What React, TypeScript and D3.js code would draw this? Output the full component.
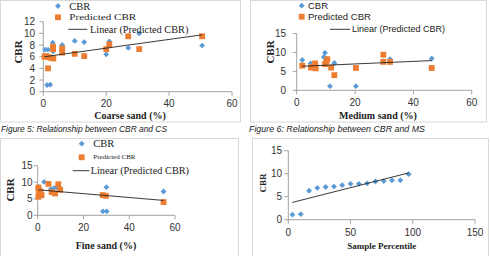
import React from 'react';
import * as d3 from 'd3';

// ---------- Data ----------
// Figure 5: Coarse sand
const csCbrX = [0.6, 1.5, 1.2, 2.2, 3.0, 3.1, 6.0, 10, 13, 20, 21, 27, 30.5, 50.5];
const csCbrY = [7.2, 7.2, 1.15, 1.2, 8.4, 6.9, 8.0, 8.7, 8.5, 6.4, 8.6, 7.5, 10.0, 7.9];
const csPredX = [0.4, 1.0, 1.7, 1.5, 2.5, 3.1, 3.1, 3.2, 6.0, 6.0, 10, 13, 20, 21, 27, 30.5, 50.5];
const csPredY = [6.0, 6.1, 5.9, 4.0, 5.8, 7.7, 7.3, 5.7, 7.4, 6.7, 6.5, 6.1, 7.3, 8.1, 9.5, 7.3, 9.5];
const csTrendX = [0.4, 50.5];
const csTrendY = [6.0, 9.75];
const csXTicks = [0, 20, 40, 60];
const csYTicks = [0, 2, 4, 6, 8, 10, 12];

// Figure 6: Medium sand
const msCbrX = [1.9, 4.8, 9.3, 9.7, 10.4, 12.9, 11.4, 20.3, 29.7, 32, 46.3];
const msCbrY = [8.0, 7.1, 8.8, 9.9, 8.3, 7.2, 1.1, 1.1, 7.7, 8.2, 8.4];
const msPredX = [1.9, 4.9, 5.5, 6.3, 6.4, 6.5, 9.7, 10.2, 10.5, 11.8, 12.9, 20.3, 29.7, 29.7, 32, 46.3];
const msPredY = [6.5, 6.0, 6.2, 7.1, 6.4, 5.8, 6.9, 7.6, 8.2, 6.0, 4.0, 5.9, 9.4, 7.5, 7.5, 5.9];
const msTrendX = [1.9, 46.3];
const msTrendY = [6.35, 7.85];
const msXTicks = [0, 20, 40, 60];
const msYTicks = [0, 5, 10, 15];

// Fine sand
const fsCbrX = [0.5, 2.8, 5.7, 7.1, 8.3, 9.8, 30.0, 28.5, 30.2, 55];
const fsCbrY = [8.6, 10.1, 7.9, 8.2, 8.5, 8.2, 8.5, 1.2, 1.2, 7.2];
const fsPredX = [0.3, 0.4, 0.6, 0.3, 1.7, 1.2, 4.7, 6.1, 7.6, 9.0, 9.8, 28.4, 29.8, 55];
const fsPredY = [8.4, 7.6, 6.6, 5.6, 6.1, 7.2, 9.5, 7.0, 6.6, 9.4, 7.7, 6.1, 5.9, 4.0];
const fsTrendX = [0.3, 55];
const fsTrendY = [7.7, 4.5];
const fsXTicks = [0, 20, 40, 60];
const fsYTicks = [0, 5, 10, 15];

// Sample percentile
const pctX = [3.3, 10, 16.7, 23.3, 30, 36.7, 43.3, 50, 56.7, 63.3, 70, 76.7, 83.3, 90, 96.7];
const pctY = [1.1, 1.2, 6.3, 6.9, 7.1, 7.2, 7.5, 7.8, 7.8, 7.9, 8.3, 8.4, 8.55, 8.55, 9.9];
const pctXTicks = [0, 50, 100, 150];
const pctYTicks = [0, 5, 10, 15];

const captions = ['Figure 5: Relationship between CBR and CS', 'Figure 6: Relationship between CBR and MS'];

// ---------- Styles ----------
const BLUE = '#5B9BD5';
const ORANGE = '#ED7D31';
const AXIS = '#8c8c8c';
const BORDER = '#d9d9d9';
const SANS = "'Liberation Sans', Arial, sans-serif";
const SERIF = "'Liberation Serif', 'Times New Roman', serif";

const diamondPath = d3.symbol().type(d3.symbolSquare).size(17)() as string;
const squarePath = d3.symbol().type(d3.symbolSquare).size(34)() as string;

function linReg(xs: number[], ys: number[]) {
  const mx = d3.mean(xs) as number;
  const my = d3.mean(ys) as number;
  let num = 0, den = 0;
  xs.forEach((x, i) => { num += (x - mx) * (ys[i] - my); den += (x - mx) * (x - mx); });
  const b = num / den;
  return (x: number) => my + b * (x - mx);
}

type PanelProps = {
  xr: [number, number]; yr: [number, number];
  xd: [number, number]; yd: [number, number];
  xTicks: number[]; yTicks: number[];
  cbrX: number[]; cbrY: number[];
  predX?: number[]; predY?: number[];
  trendX: number[]; trendY: number[];
  yTitle: { x: number; y: number; size: number };
  xTitle: { text: string; x: number; y: number; size: number };
  yLabelX: number; xLabelDy: number; tickSize: number;
};

function Panel(p: PanelProps) {
  const x = d3.scaleLinear().domain(p.xd).range(p.xr);
  const y = d3.scaleLinear().domain(p.yd).range(p.yr);
  const line = d3.line<number>().x((d, i) => x(p.trendX[i])).y((d) => y(d));
  return (
    <g>
      <line x1={x(p.xd[0])} x2={x(p.xd[0])} y1={y(p.yd[0])} y2={y(p.yd[1])} stroke={AXIS} strokeWidth={0.8} />
      {p.yTicks.map((t) => (
        <g key={'y' + t}>
          <line x1={x(p.xd[0]) - 4} x2={x(p.xd[0])} y1={y(t)} y2={y(t)} stroke={AXIS} strokeWidth={0.8} />
          <text x={p.yLabelX} y={y(t)} textAnchor="end" dominantBaseline="central" fontFamily={SANS} fontSize={p.tickSize} fill="#333">{t}</text>
        </g>
      ))}
      <line x1={x(p.xd[0])} x2={x(p.xd[1])} y1={y(p.yd[0])} y2={y(p.yd[0])} stroke={AXIS} strokeWidth={0.8} />
      {p.xTicks.map((t) => (
        <g key={'x' + t}>
          <line x1={x(t)} x2={x(t)} y1={y(p.yd[0])} y2={y(p.yd[0]) + 4} stroke={AXIS} strokeWidth={0.8} />
          <text x={x(t)} y={y(p.yd[0]) + p.xLabelDy} textAnchor="middle" dominantBaseline="central" fontFamily={SANS} fontSize={p.tickSize} fill="#333">{t}</text>
        </g>
      ))}
      {p.cbrX.map((v, i) => (
        <path key={'c' + i} d={diamondPath} transform={`translate(${x(v)},${y(p.cbrY[i])}) rotate(45)`} fill={BLUE} />
      ))}
      {p.predX && p.predY && p.predX.map((v, i) => (
        <path key={'p' + i} d={squarePath} transform={`translate(${x(v)},${y(p.predY![i])})`} fill={ORANGE} />
      ))}
      <path d={line(p.trendY) as string} fill="none" stroke="#222" strokeWidth={0.9} />
      <text transform={`translate(${p.yTitle.x},${p.yTitle.y}) rotate(-90)`} textAnchor="middle" dominantBaseline="central" fontFamily={SERIF} fontWeight="bold" fontSize={p.yTitle.size} fill="#222">CBR</text>
      <text x={p.xTitle.x} y={p.xTitle.y} textAnchor="middle" dominantBaseline="central" fontFamily={SERIF} fontWeight="bold" fontSize={p.xTitle.size} fill="#222">{p.xTitle.text}</text>
    </g>
  );
}

type LegendProps = {
  markX: number; y1: number; y2: number; y3: number;
  textX: number; lineX1: number; lineX2: number; lineTextX: number;
  font: string; s1: number; s2: number; s3: number; len2?: number;
};
function Legend(l: LegendProps) {
  return (
    <g fill="#222">
      <path d={diamondPath} transform={`translate(${l.markX},${l.y1}) rotate(45)`} fill={BLUE} />
      <text x={l.textX} y={l.y1} dominantBaseline="central" fontFamily={l.font} fontSize={l.s1}>CBR</text>
      <path d={squarePath} transform={`translate(${l.markX},${l.y2})`} fill={ORANGE} />
      <text x={l.textX} y={l.y2} dominantBaseline="central" fontFamily={l.font} fontSize={l.s2}
        {...(l.len2 ? { textLength: l.len2, lengthAdjust: 'spacingAndGlyphs' } : {})}>Predicted CBR</text>
      <line x1={l.lineX1} x2={l.lineX2} y1={l.y3} y2={l.y3} stroke="#222" strokeWidth={0.9} />
      <text x={l.lineTextX} y={l.y3} dominantBaseline="central" fontFamily={l.font} fontSize={l.s3}>Linear (Predicted CBR)</text>
    </g>
  );
}

export default function App() {
  const pctFit = linReg(pctX, pctY);
  const pctTrendX = [pctX[0], pctX[pctX.length - 1]];
  const pctTrendY = pctTrendX.map(pctFit);
  return (
    <svg width={490} height={256} style={{ position: 'absolute', left: 0, top: 0, background: '#fff' }}>
      <rect x={0} y={0} width={490} height={256} fill="#fff" />
      <rect x={0.5} y={0.5} width={240} height={121.5} fill="none" stroke={BORDER} />
      <rect x={250.5} y={0.5} width={236} height={121.5} fill="none" stroke={BORDER} />
      <rect x={0.5} y={138.5} width={238} height={125} fill="none" stroke={BORDER} />
      <rect x={252.5} y={138.5} width={236} height={125} fill="none" stroke={BORDER} />

      <Panel xr={[43.3, 232]} yr={[91.7, 21.7]} xd={[0, 60]} yd={[0, 12]} xTicks={csXTicks} yTicks={csYTicks}
        cbrX={csCbrX} cbrY={csCbrY} predX={csPredX} predY={csPredY} trendX={csTrendX} trendY={csTrendY}
        yTitle={{ x: 18, y: 52, size: 11 }} xTitle={{ text: 'Coarse sand (%)', x: 130, y: 115, size: 10 }}
        yLabelX={35} xLabelDy={11.5} tickSize={10} />
      <Legend markX={58} y1={6} y2={17.3} y3={29.3} textX={69.3} lineX1={68.3} lineX2={87.3} lineTextX={90}
        font={SERIF} s1={10.5} s2={7.5} s3={10.3} len2={67} />

      <Panel xr={[296.7, 471.7]} yr={[90.3, 33.5]} xd={[0, 60]} yd={[0, 15]} xTicks={msXTicks} yTicks={msYTicks}
        cbrX={msCbrX} cbrY={msCbrY} predX={msPredX} predY={msPredY} trendX={msTrendX} trendY={msTrendY}
        yTitle={{ x: 270, y: 52, size: 11 }} xTitle={{ text: 'Medium sand (%)', x: 378, y: 115, size: 10 }}
        yLabelX={286} xLabelDy={12.5} tickSize={10} />
      <Legend markX={301.7} y1={5.7} y2={16.7} y3={29.3} textX={308} lineX1={330} lineX2={350} lineTextX={352}
        font={SANS} s1={9.5} s2={9.5} s3={9} />

      <Panel xr={[37.7, 175]} yr={[215.3, 165.7]} xd={[0, 60]} yd={[0, 15]} xTicks={fsXTicks} yTicks={fsYTicks}
        cbrX={fsCbrX} cbrY={fsCbrY} predX={fsPredX} predY={fsPredY} trendX={fsTrendX} trendY={fsTrendY}
        yTitle={{ x: 10, y: 190, size: 11 }} xTitle={{ text: 'Fine sand (%)', x: 106, y: 245, size: 10 }}
        yLabelX={32.5} xLabelDy={12.5} tickSize={10} />
      <Legend markX={81.7} y1={143.7} y2={157.3} y3={170.7} textX={93.3} lineX1={72.7} lineX2={89.3} lineTextX={90.7}
        font={SERIF} s1={10.5} s2={7} s3={10.3} />

      <Panel xr={[288.3, 475]} yr={[219.7, 150.7]} xd={[0, 150]} yd={[0, 15]} xTicks={pctXTicks} yTicks={pctYTicks}
        cbrX={pctX} cbrY={pctY} trendX={pctTrendX} trendY={pctTrendY}
        yTitle={{ x: 263, y: 183, size: 9 }} xTitle={{ text: 'Sample Percentile', x: 381.7, y: 246, size: 9 }}
        yLabelX={282} xLabelDy={12.3} tickSize={10} />

      <text x={1} y={131.5} fontFamily={SANS} fontStyle="italic" fontSize={9.5} fill="#222" textLength={166} lengthAdjust="spacingAndGlyphs">{captions[0]}</text>
      <text x={249} y={131.5} fontFamily={SANS} fontStyle="italic" fontSize={9.5} fill="#222" textLength={176} lengthAdjust="spacingAndGlyphs">{captions[1]}</text>
    </svg>
  );
}
